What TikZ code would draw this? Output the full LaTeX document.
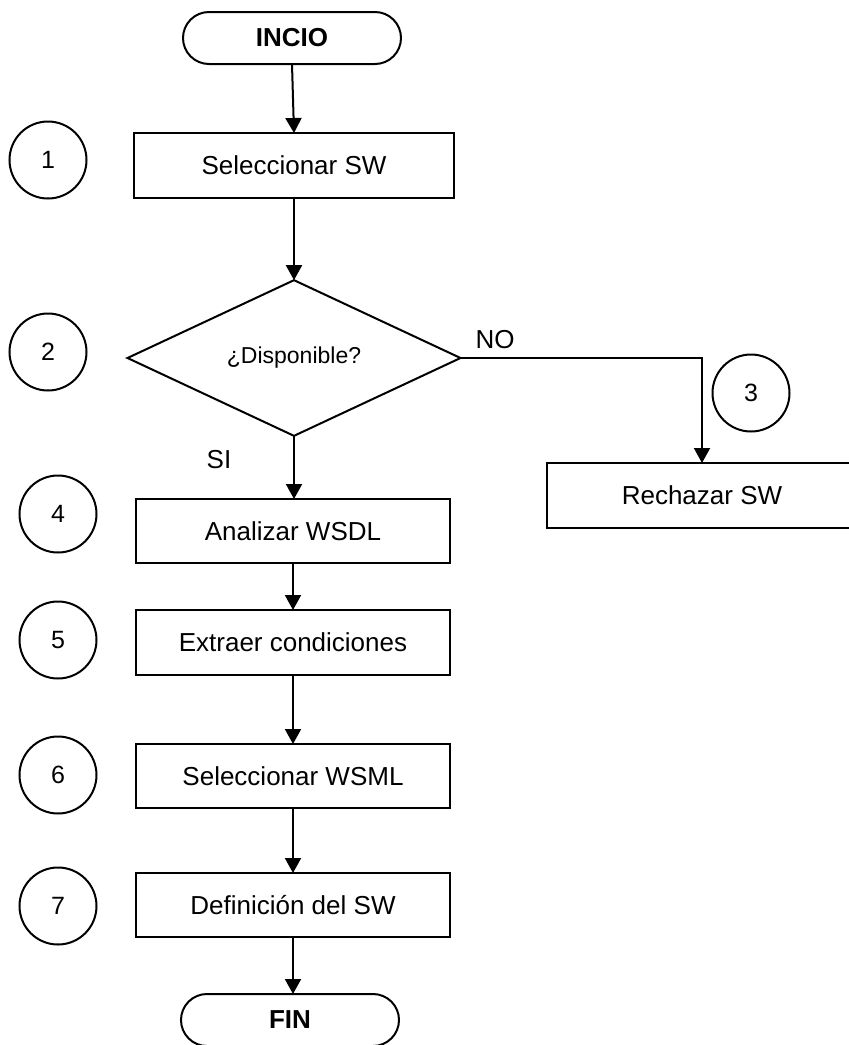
\documentclass[tikz,border=0pt]{standalone}
\usepackage{fontspec}
\setmainfont{Liberation Sans}
\usetikzlibrary{shapes.geometric,shapes.misc,arrows.meta}
\begin{document}
\begin{tikzpicture}[x=1pt,y=-1pt,
  line width=2pt,
  every node/.style={inner sep=0pt, outer sep=0pt},
  bigtext/.style={font=\fontsize{26}{30}\selectfont},
  terminal/.style={draw, rounded rectangle, minimum width=218pt, minimum height=52pt,
    font=\fontsize{26}{30}\selectfont\bfseries},
  process/.style={draw, rectangle, minimum height=64pt, bigtext},
  decision/.style={draw, diamond, minimum width=333pt, minimum height=148pt,
    font=\fontsize{23}{27}\selectfont},
  stepnum/.style={draw, circle, minimum size=77pt, font=\fontsize{25}{29}\selectfont},
  flow/.style={-{Triangle[length=15pt,width=16pt]}, line width=2pt}
]
\useasboundingbox (0,0) rectangle (849,1045);

% main column
\node[terminal] (inicio) at (292,38) {INCIO};
\node[process, minimum width=320pt, minimum height=65pt] (selsw) at (294,165.5) {Seleccionar SW};
\node[decision] (disp) at (294,358) {¿Disponible?};
\node[process, minimum width=314pt] (wsdl) at (293,531) {Analizar WSDL};
\node[process, minimum width=314pt, minimum height=65pt] (cond) at (293,642.5) {Extraer condiciones};
\node[process, minimum width=314pt] (wsml) at (293,776) {Seleccionar WSML};
\node[process, minimum width=314pt] (defsw) at (293,905) {Definición del SW};
\node[terminal] (fin) at (290,1020) {FIN};

% rejection branch
\node[process, minimum width=310pt, minimum height=65pt] (rech) at (702,495.5) {Rechazar SW};

% step numbers
\node[stepnum] (n1) at (48,160) {1};
\node[stepnum] (n2) at (48,352) {2};
\node[stepnum] (n3) at (751,393) {3};
\node[stepnum] (n4) at (58,514) {4};
\node[stepnum] (n5) at (58,640) {5};
\node[stepnum] (n6) at (58,775) {6};
\node[stepnum] (n7) at (58,906) {7};

% branch labels
\node[bigtext] (lno) at (495,340) {NO};
\node[bigtext] (lsi) at (219,460) {SI};

% connectors
\draw[flow] (inicio.south) -- (selsw.north);
\draw[flow] (selsw.south) -- (disp.north);
\draw[flow] (disp.south) -- (disp.south |- wsdl.north);
\draw[flow] (disp.east) -| (rech.north);
\draw[flow] (wsdl.south) -- (cond.north);
\draw[flow] (cond.south) -- (wsml.north);
\draw[flow] (wsml.south) -- (defsw.north);
\draw[flow] (defsw.south) -- (defsw.south |- fin.north);
\end{tikzpicture}
\end{document}
